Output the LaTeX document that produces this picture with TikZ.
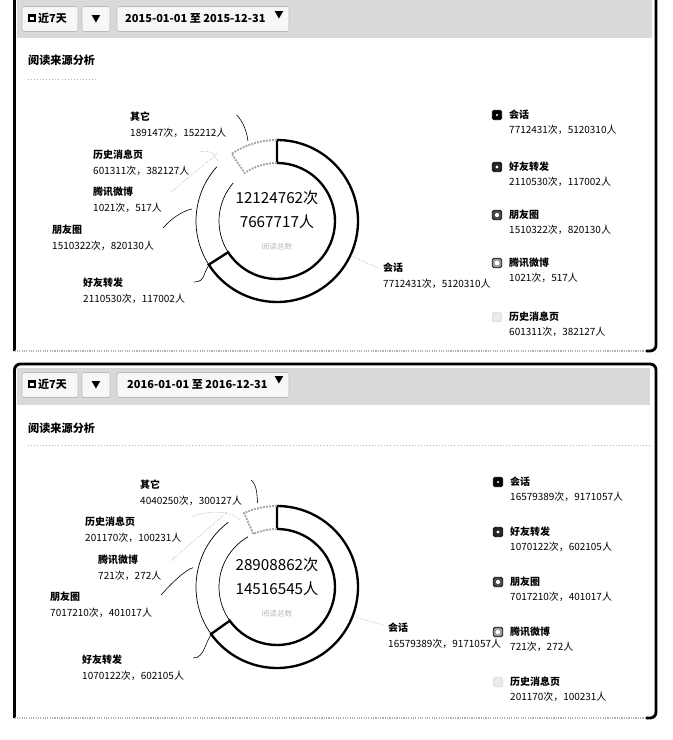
\documentclass[tikz,border=0pt]{standalone}
\usepackage{fontspec}
\setmainfont{Noto Sans CJK SC}
\usetikzlibrary{positioning,calc}

\begin{document}
\begin{tikzpicture}[
        x=0.03cm, y=-0.03cm, % one unit = one pixel, y runs downwards
        frame/.style={draw=black, line width=2.4pt, rounded corners=5pt},
        frameshadow/.style={draw=gray!60, line width=1pt, densely dotted},
        header/.style={fill=gray!30, draw=none},
        btn/.style={draw=gray!55, fill=gray!6, rounded corners=1.5pt, line width=0.5pt, minimum height=0.75cm, inner sep=0pt},
        headtext/.style={font=\fontsize{9.4}{11}\selectfont\bfseries, inner sep=0pt},
        arrowtext/.style={font=\fontsize{8}{9}\selectfont, inner sep=0pt},
        calicon/.style={fill=black, minimum size=6pt, inner sep=0pt,
            path picture={\fill[white] ([xshift=1.2pt,yshift=-2.4pt]path picture bounding box.north west) rectangle ([xshift=-1.2pt,yshift=1.2pt]path picture bounding box.south east);}},
        title/.style={font=\fontsize{9.5}{11}\selectfont\bfseries, inner sep=0pt, anchor=west},
        underline/.style={draw=gray!60, line width=0.6pt, dotted},
        lbl/.style={font=\fontsize{8.5}{13.4}\selectfont, align=left, inner sep=0pt, anchor=north west},
        legtext/.style={font=\fontsize{8.5}{12.8}\selectfont, align=left, inner sep=0pt, anchor=north west},
        legmark/.style={minimum size=8pt, inner sep=0pt, rounded corners=1.2pt, draw=black, line width=0.6pt},
        whitedot/.style={path picture={\fill[white] (path picture bounding box.center) circle (#1);}},
        total/.style={font=\fontsize{13}{15}\selectfont, inner sep=0pt},
        caption/.style={font=\fontsize{6.5}{8}\selectfont, text=gray!55, inner sep=0pt},
        bigseg/.style={draw=black, line width=2pt, fill=white},
        thinseg/.style={draw=black, line width=0.6pt},
        dotseg/.style={draw=gray!70, line width=1.6pt, densely dotted},
        leader/.style={draw=black, line width=0.5pt},
        faintleader/.style={draw=gray!70, line width=0.5pt, densely dotted}
    ]
    \useasboundingbox (0,0) rectangle (672,740);
    \fill[white] (0,0) rectangle (672,740);

    % ---------- panel 2015 ----------
    \fill[header] (17,-5) rectangle (652,38);
    \draw[frame] (14.5,351) -- (14.5,-12) -- (656,-12) -- (656,351) -- (646,351);
    \draw[frameshadow] (14.5,351) -- (646,351);

    \node[btn, minimum width=1.68cm] (range15) at (50,19) {};
    \node[calicon] (cal15) at (32,18) {};
    \node[headtext, anchor=west] (days15) at (38,18) {近7天};
    \node[btn, minimum width=0.84cm, arrowtext] (drop15) at (96,19) {▼};
    \node[btn, minimum width=5.16cm] (dates15) at (203,19) {};
    \node[headtext, anchor=west] (datetxt15) at (125,18) {2015-01-01 至 2015-12-31};
    \node[arrowtext] (datedrop15) at (279,15) {▼};

    \node[title] (title15) at (28,60) {阅读来源分析};
    \draw[underline] (28,79) -- (97,79);

    \begin{scope}[shift={(277,221)}, yscale=-1]
        \draw[bigseg] (90:81) arc[start angle=90, end angle=-147.4, radius=81] -- (-147.4:58)
            arc[start angle=-147.4, end angle=90, radius=58] -- cycle;
        \draw[thinseg] (212.6:81) arc[start angle=212.6, end angle=138, radius=81];
        \draw[thinseg] (212.6:58) arc[start angle=212.6, end angle=139, radius=58];
        \draw[dotseg] (90:81) arc[start angle=90, end angle=124, radius=81] -- (124:58)
            arc[start angle=124, end angle=90, radius=58];
        \coordinate (r15-huihua) at (-25:82);
        \coordinate (r15-qita) at (110:85);
        \coordinate (r15-lishi) at (135:83);
        \coordinate (r15-tengxun) at (131:90);
        \coordinate (r15-pyq) at (172:86);
        \coordinate (r15-haoyou) at (212.6:79);
    \end{scope}

    \node[total] (count15) at (277,198) {12124762次};
    \node[total] (users15) at (277,222) {7667717人};
    \node[caption] (cap15) at (277,247) {阅读总数};

    \node[lbl] (qita15) at (130,112) {\textbf{其它}\\189147次，152212人};
    \node[lbl] (lishi15) at (93,150) {\textbf{历史消息页}\\601311次，382127人};
    \node[lbl] (tengxun15) at (93,187) {\textbf{腾讯微博}\\1021次，517人};
    \node[lbl] (pyq15) at (52,225) {\textbf{朋友圈}\\1510322次，820130人};
    \node[lbl] (haoyou15) at (83,278) {\textbf{好友转发}\\2110530次，117002人};
    \node[lbl] (huihua15) at (383,263) {\textbf{会话}\\7712431次，5120310人};

    \draw[faintleader] (r15-huihua) -- ($(huihua15.north west)+(-5,5)$);
    \draw[leader] ($(qita15.north east)+(10,3)$) .. controls +(6,6) and +(-1,-10) .. (r15-qita);
    \draw[faintleader] ($(lishi15.north east)+(9,2)$) .. controls +(16,-3) and +(-4,-6) .. (r15-lishi);
    \draw[faintleader] ($(tengxun15.north east)+(9,5)$) -- (r15-tengxun);
    \draw[leader] ($(pyq15.north east)+(9,3)$) .. controls +(10,-12) and +(-6,1) .. (r15-pyq);
    \draw[leader] ($(haoyou15.north east)+(9,4)$) .. controls +(12,0) and +(-8,8) .. (r15-haoyou);

    % legend 2015
    \node[legmark, fill=black, whitedot=0.9pt] (m15-huihua) at (497,115) {};
    \node[legmark, fill=black!85, whitedot=1.3pt] (m15-haoyou) at (497,167) {};
    \node[legmark, fill=black!70, whitedot=1.8pt] (m15-pyq) at (497,215) {};
    \node[legmark, fill=black!40, whitedot=2pt] (m15-tengxun) at (497,263) {};
    \node[legmark, fill=black!8, draw=black!15] (m15-lishi) at (497,317) {};
    \node[legtext] (l15-huihua) at (509,110) {\textbf{会话}\\7712431次，5120310人};
    \node[legtext] (l15-haoyou) at (509,162) {\textbf{好友转发}\\2110530次，117002人};
    \node[legtext] (l15-pyq) at (509,210) {\textbf{朋友圈}\\1510322次，820130人};
    \node[legtext] (l15-tengxun) at (509,258) {\textbf{腾讯微博}\\1021次，517人};
    \node[legtext] (l15-lishi) at (509,312) {\textbf{历史消息页}\\601311次，382127人};

    % ---------- panel 2016 ----------
    \fill[header] (17,368) rectangle (650,405);
    \draw[frame] (14.5,718) -- (14.5,364) -- (656,364) -- (656,718) -- (646,718);
    \draw[frameshadow] (14.5,718) -- (646,718);

    \node[btn, minimum width=1.68cm] (range16) at (50,385) {};
    \node[calicon] (cal16) at (32,384) {};
    \node[headtext, anchor=west] (days16) at (38,384) {近7天};
    \node[btn, minimum width=0.84cm, arrowtext] (drop16) at (96,385) {▼};
    \node[btn, minimum width=5.16cm] (dates16) at (203,385) {};
    \node[headtext, anchor=west] (datetxt16) at (127,384) {2016-01-01 至 2016-12-31};
    \node[arrowtext] (datedrop16) at (279,380) {▼};

    \node[title] (title16) at (28,428) {阅读来源分析};
    \draw[underline] (28,445) -- (650,445);

    \begin{scope}[shift={(277,587)}, yscale=-1]
        \draw[bigseg] (90:81) arc[start angle=90, end angle=-144.5, radius=81] -- (-144.5:58)
            arc[start angle=-144.5, end angle=90, radius=58] -- cycle;
        \draw[thinseg] (215.5:81) arc[start angle=215.5, end angle=127, radius=81];
        \draw[thinseg] (215.5:58) arc[start angle=215.5, end angle=120, radius=58];
        \draw[dotseg] (90:81) arc[start angle=90, end angle=114, radius=81] -- (114:58)
            arc[start angle=114, end angle=90, radius=58];
        \coordinate (r16-huihua) at (-21:84);
        \coordinate (r16-qita) at (103:86);
        \coordinate (r16-lishi) at (119:77);
        \coordinate (r16-tengxun) at (123:90);
        \coordinate (r16-pyq) at (167:86);
        \coordinate (r16-haoyou) at (215.5:79);
    \end{scope}

    \node[total] (count16) at (277,565) {28908862次};
    \node[total] (users16) at (277,589) {14516545人};
    \node[caption] (cap16) at (277,614) {阅读总数};

    \node[lbl] (qita16) at (140,480) {\textbf{其它}\\4040250次，300127人};
    \node[lbl] (lishi16) at (85,517) {\textbf{历史消息页}\\201170次，100231人};
    \node[lbl] (tengxun16) at (98,555) {\textbf{腾讯微博}\\721次，272人};
    \node[lbl] (pyq16) at (50,592) {\textbf{朋友圈}\\7017210次，401017人};
    \node[lbl] (haoyou16) at (82,655) {\textbf{好友转发}\\1070122次，602105人};
    \node[lbl] (huihua16) at (388,623) {\textbf{会话}\\16579389次，9171057人};

    \draw[faintleader] (r16-huihua) -- ($(huihua16.north west)+(-5,2)$);
    \draw[leader] ($(qita16.north east)+(9,0)$) .. controls +(6,6) and +(-1,-10) .. (r16-qita);
    \draw[faintleader] ($(lishi16.north east)+(9,0)$) .. controls +(20,-8) and +(-6,-8) .. (r16-lishi);
    \draw[faintleader] ($(tengxun16.north east)+(9,6)$) -- (r16-tengxun);
    \draw[leader] ($(pyq16.north east)+(9,3)$) .. controls +(10,-12) and +(-6,1) .. (r16-pyq);
    \draw[leader] ($(haoyou16.north east)+(9,3)$) .. controls +(12,0) and +(-8,8) .. (r16-haoyou);

    % legend 2016
    \node[legmark, fill=black, whitedot=0.9pt] (m16-huihua) at (498,482) {};
    \node[legmark, fill=black!85, whitedot=1.3pt] (m16-haoyou) at (498,532) {};
    \node[legmark, fill=black!70, whitedot=1.8pt] (m16-pyq) at (498,582) {};
    \node[legmark, fill=black!40, whitedot=2pt] (m16-tengxun) at (498,632) {};
    \node[legmark, fill=black!8, draw=black!15] (m16-lishi) at (498,682) {};
    \node[legtext] (l16-huihua) at (510,477) {\textbf{会话}\\16579389次，9171057人};
    \node[legtext] (l16-haoyou) at (510,527) {\textbf{好友转发}\\1070122次，602105人};
    \node[legtext] (l16-pyq) at (510,577) {\textbf{朋友圈}\\7017210次，401017人};
    \node[legtext] (l16-tengxun) at (510,627) {\textbf{腾讯微博}\\721次，272人};
    \node[legtext] (l16-lishi) at (510,677) {\textbf{历史消息页}\\201170次，100231人};
\end{tikzpicture}
\end{document}
